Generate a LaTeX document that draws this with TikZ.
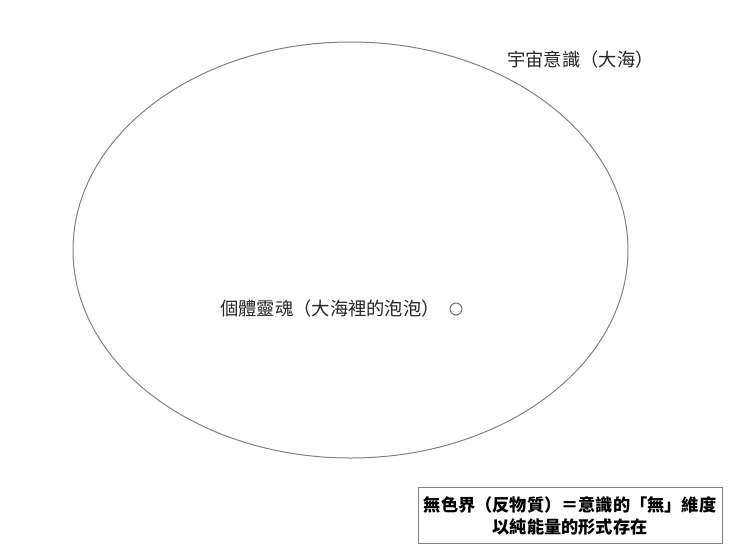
\documentclass[tikz,border=0pt]{standalone}
\usepackage{fontspec}
\setmainfont{Noto Sans CJK TC}
\begin{document}
\begin{tikzpicture}[x=1pt,y=-1pt,
  lbl/.style={inner sep=0pt,text=black!85,font=\fontsize{18.3}{22}\selectfont},
  boxlbl/.style={draw=black!50,line width=1pt,inner sep=4pt,align=center,text=black,font=\fontsize{17.2}{22}\selectfont\bfseries,minimum width=304pt,minimum height=56pt}]
\useasboundingbox (0,0) rectangle (740,555);
\draw[black!50,line width=1pt] (350.5,250) ellipse [x radius=277.5pt,y radius=208pt];
\node[lbl,anchor=west] (ocean) at (507,60) {宇宙意識（大海）};
\node[lbl,anchor=west] (soul) at (220,309) {個體靈魂（大海裡的泡泡）};
\node[draw=black!55,line width=1pt,circle,minimum size=12pt,inner sep=0pt] (bubble) at (456,309) {};
\node[boxlbl] (note) at (570,515.5) {無色界（反物質）＝意識的「無」維度\\以純能量的形式存在};
\end{tikzpicture}
\end{document}
